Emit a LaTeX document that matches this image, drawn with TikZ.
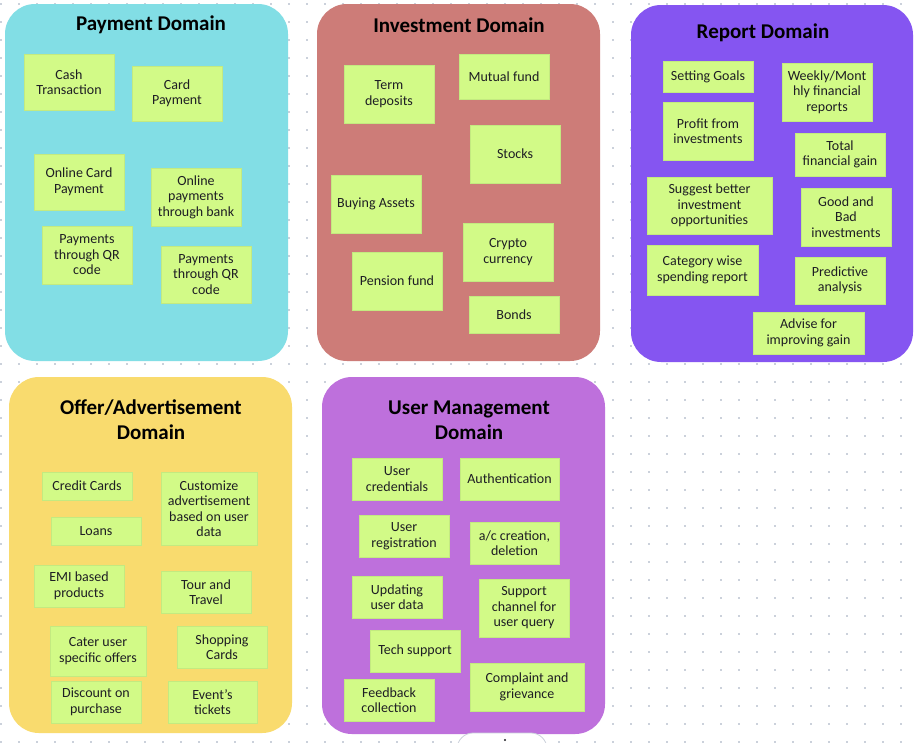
\documentclass[tikz,border=0pt]{standalone}
\usepackage{fontspec}
\setmainfont{Carlito}
\usepackage{tikz}
\usepackage{xcolor}
\usetikzlibrary{positioning}
\definecolor{DomCyan}{HTML}{82DEE5}
\definecolor{DomRose}{HTML}{CD7C78}
\definecolor{DomViolet}{HTML}{8555F1}
\definecolor{DomSun}{HTML}{F9DB6E}
\definecolor{DomOrchid}{HTML}{BE70DC}
\definecolor{NoteLime}{HTML}{D2FA87}
\definecolor{NoteEdge}{HTML}{C3EA80}
\definecolor{GridDot}{HTML}{CBD1DB}
\definecolor{InkDark}{HTML}{1E1E24}

\begin{document}
\begin{tikzpicture}[
    x=1pt,y=-1pt,font=\fontsize{14}{15.5}\selectfont,
    panel/.style={rounded corners=30pt},
    title/.style={font=\fontsize{21}{25}\selectfont\bfseries,text=black,align=center,inner sep=0pt},
    note/.style={draw=NoteEdge,line width=0.6pt,fill=NoteLime,text=InkDark,align=center,
      minimum width=90pt,inner sep=1pt},
    popup/.style={draw=GridDot,fill=white,rounded corners=16pt,line width=0.8pt}
  ]
    \useasboundingbox (0,0) rectangle (917,742);
    \fill[white] (0,0) rectangle (917,742);
    % dotted canvas
    \foreach \gx in {1,19,...,917}
      \foreach \gy in {4,22,...,742}
        \fill[GridDot] (\gx-1,\gy-1) rectangle ++(2,2);

    % domain panels
    \fill[panel,DomCyan] (5,4) rectangle (288,361);
    \fill[panel,DomRose] (317,4) rectangle (600,361);
    \fill[panel,DomViolet] (631,5) rectangle (913,362);
    \fill[panel,DomSun] (9,377) rectangle (292,733);
    \fill[panel,DomOrchid] (322,377) rectangle (605,734);
    \draw[popup] (457,733) rectangle (547,775);
    \fill[InkDark] (505,740) circle (1.2);

    \node[title] (paytitle) at (151,25) {Payment Domain};
    \node[title] (invtitle) at (459,25) {Investment Domain};
    \node[title] (reptitle) at (763,33) {Report Domain};
    \node[title] (offtitle) at (151,420) {Offer/Advertisement\\Domain};
    \node[title] (usrtitle) at (469,420) {User Management\\Domain};

    % payment
    \node[note,minimum height=56pt] (cash) at (69,82) {Cash\\Transaction};
    \node[note,minimum height=55pt] (card) at (177,93.5) {Card\\Payment};
    \node[note,minimum height=56pt] (onlinecard) at (79,182) {Online Card\\Payment};
    \node[note,minimum height=58pt] (onlinebank) at (196,197) {Online\\payments\\through bank};
    \node[note,minimum height=58pt] (qrleft) at (87,255) {Payments\\through QR\\code};
    \node[note,minimum height=57pt] (qrright) at (206,274.5) {Payments\\through QR\\code};

    % investment
    \node[note,minimum height=58pt] (term) at (389,94) {Term\\deposits};
    \node[note,minimum height=45pt] (mutual) at (504,76.5) {Mutual fund};
    \node[note,minimum height=58pt] (stocks) at (515,154) {Stocks};
    \node[note,minimum height=58pt] (assets) at (376,204) {Buying Assets};
    \node[note,minimum height=58pt] (crypto) at (508,252) {Crypto\\currency};
    \node[note,minimum height=58pt] (pension) at (397,281) {Pension fund};
    \node[note,minimum height=37pt] (bonds) at (514,314.5) {Bonds};

    % report
    \node[note,minimum height=31pt] (goals) at (708,76.5) {Setting Goals};
    \node[note,minimum height=58pt] (weekly) at (827,92) {Weekly/Mont\\hly financial\\reports};
    \node[note,minimum height=58pt] (profit) at (708,131) {Profit from\\investments};
    \node[note,minimum height=43pt] (total) at (840,154.5) {Total\\financial gain};
    \node[note,minimum width=125pt,minimum height=57pt] (suggest) at (709.5,205.5) {Suggest better\\investment\\opportunities};
    \node[note,minimum height=58pt] (goodbad) at (846,217) {Good and\\Bad\\investments};
    \node[note,minimum width=111pt,minimum height=50pt] (category) at (702.5,270) {Category wise\\spending report};
    \node[note,minimum height=47pt] (predict) at (840,280.5) {Predictive\\analysis};
    \node[note,minimum width=111pt,minimum height=42pt] (advise) at (808.5,333) {Advise for\\improving gain};

    % offer / advertisement
    \node[note,minimum height=28pt] (credit) at (87,486) {Credit Cards};
    \node[note,minimum height=28pt] (loans) at (96,531) {Loans};
    \node[note,minimum width=96pt,minimum height=73pt] (custom) at (209,508.5) {Customize\\advertisement\\based on user\\data};
    \node[note,minimum height=42pt] (emi) at (79,586) {EMI based\\products};
    \node[note,minimum height=42pt] (tour) at (206,592) {Tour and\\Travel};
    \node[note,minimum width=96pt,minimum height=50pt] (cater) at (98,651) {Cater user\\specific offers};
    \node[note,minimum height=42pt] (shopping) at (222,647) {Shopping\\Cards};
    \node[note,minimum height=42pt] (discount) at (96,702) {Discount on\\purchase};
    \node[note,minimum width=89pt,minimum height=42pt] (event) at (212.5,702) {Event’s\\tickets};

    % user management
    \node[note,minimum height=42pt] (cred) at (397,479) {User\\credentials};
    \node[note,minimum width=99pt,minimum height=42pt] (auth) at (509.5,479) {Authentication};
    \node[note,minimum height=42pt] (regis) at (404,536) {User\\registration};
    \node[note,minimum width=89pt,minimum height=42pt] (account) at (514.5,543) {a/c creation,\\deletion};
    \node[note,minimum height=42pt] (update) at (397,597) {Updating\\user data};
    \node[note,minimum height=58pt] (supportch) at (524,608) {Support\\channel for\\user query};
    \node[note,minimum height=42pt] (tech) at (415,651) {Tech support};
    \node[note,minimum height=42pt] (feedback) at (389,700) {Feedback\\collection};
    \node[note,minimum width=114pt,minimum height=48pt] (complaint) at (527,687) {Complaint and\\grievance};
  \end{tikzpicture}
\end{document}
